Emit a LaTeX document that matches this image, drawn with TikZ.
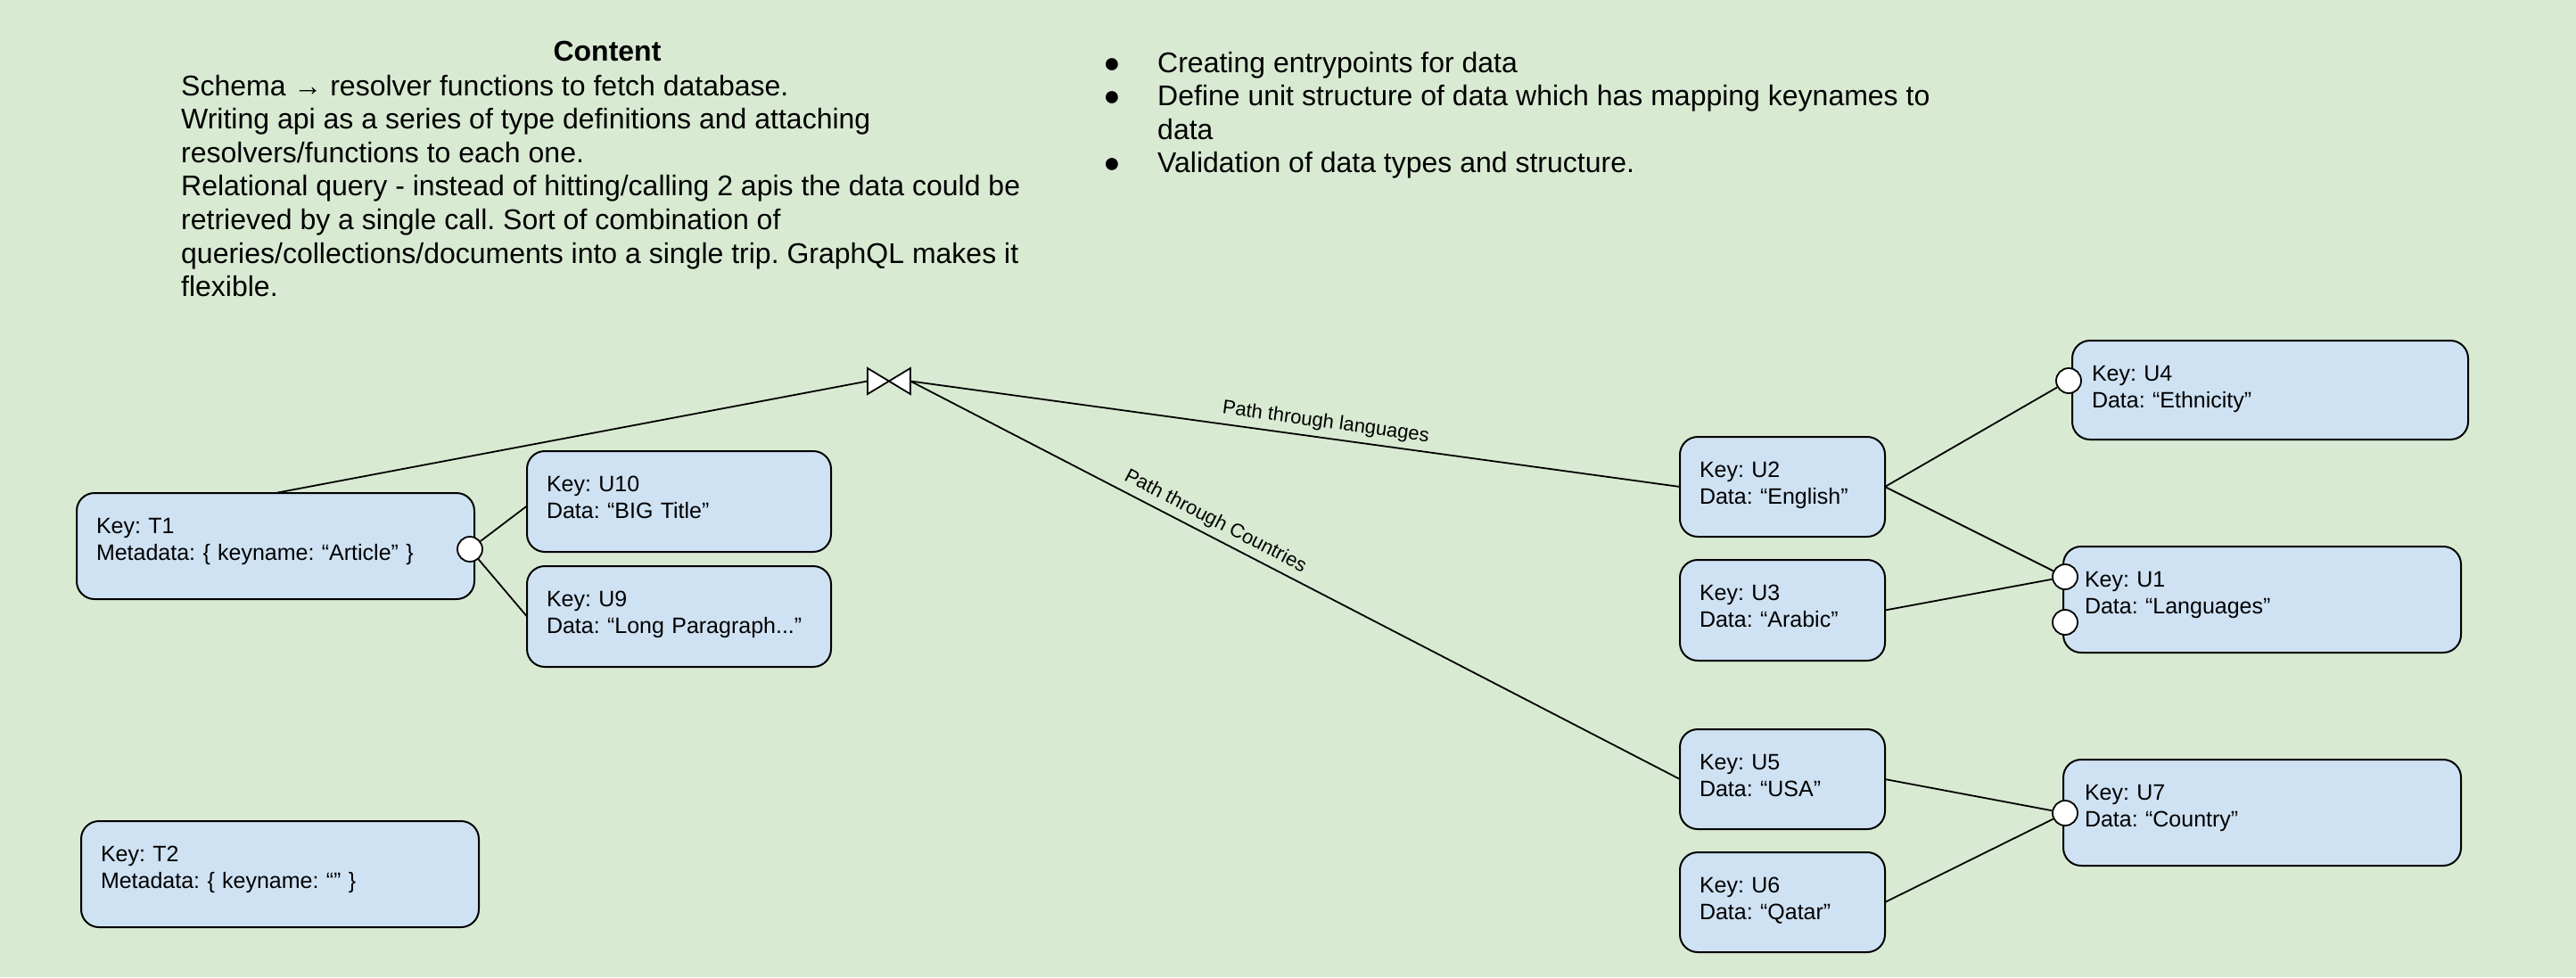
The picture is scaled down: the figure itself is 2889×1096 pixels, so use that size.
\documentclass[tikz,border=0pt]{standalone}
\usepackage{fontspec}
\setmainfont{Liberation Sans}
\frenchspacing
\definecolor{bggreen}{HTML}{D9EAD3}
\definecolor{boxblue}{HTML}{CFE2F3}
\tikzset{
  box/.style={draw, fill=boxblue, rounded corners=20pt, line width=2pt,
    inner xsep=22pt, inner ysep=0pt, outer sep=0pt, text height=45pt,
    align=left, anchor=north west, font=\fontsize{25}{30.6}\selectfont},
  bodytext/.style={anchor=base west, inner sep=0pt, font=\fontsize{32}{38}\selectfont},
  bullet/.style={anchor=base, inner sep=0pt, font=\fontsize{32}{38}\selectfont},
  conn/.style={line width=1.8pt},
  ring/.style={circle, draw, fill=white, line width=1.8pt, minimum size=28pt, inner sep=0pt},
  pathlabel/.style={font=\fontsize{22}{26}\selectfont, sloped, above, inner sep=6pt}
}
\begin{document}
\begin{tikzpicture}[x=1pt,y=1pt]
\useasboundingbox (0,0) rectangle (2889,-1096);
\fill[bggreen] (0,0) rectangle (2889,-1096);

% text blocks
\node[bodytext, anchor=base, font=\fontsize{32}{38}\selectfont\bfseries] (title) at (681,-68) {Content};
\node[bodytext] (l1) at (203,-107) {Schema → resolver functions to fetch database.};
\node[bodytext] (l2) at (203,-144.6) {Writing api as a series of type definitions and attaching};
\node[bodytext] (l3) at (203,-182.2) {resolvers/functions to each one.};
\node[bodytext] (l4) at (203,-219.8) {Relational query - instead of hitting/calling 2 apis the data could be};
\node[bodytext] (l5) at (203,-257.4) {retrieved by a single call. Sort of combination of};
\node[bodytext] (l6) at (203,-295) {queries/collections/documents into a single trip. GraphQL makes it};
\node[bodytext] (l7) at (203,-332.6) {flexible.};

\node[bullet] (d1) at (1247,-81) {●};
\node[bullet] (d2) at (1247,-118.5) {●};
\node[bullet] (d3) at (1247,-193.5) {●};
\node[bodytext] (b1) at (1298,-81) {Creating entrypoints for data};
\node[bodytext] (b2) at (1298,-118.5) {Define unit structure of data which has mapping keynames to};
\node[bodytext] (b3) at (1298,-156) {data};
\node[bodytext] (b4) at (1298,-193.5) {Validation of data types and structure.};

% boxes
\node[box, text width=402pt, text depth=74pt] (t1) at (86,-553) {Key: T1\\Metadata: \{ keyname: “Article” \}};
\node[box, text width=297pt, text depth=68pt] (u10) at (591,-506) {Key: U10\\Data: “BIG Title”};
\node[box, text width=297pt, text depth=68pt] (u9) at (591,-635) {Key: U9\\Data: “Long Paragraph...”};
\node[box, text width=400pt, text depth=66pt] (u4) at (2324,-382) {Key: U4\\Data: “Ethnicity”};
\node[box, text width=186pt, text depth=67pt] (u2) at (1884,-490) {Key: U2\\Data: “English”};
\node[box, text width=186pt, text depth=68pt] (u3) at (1884,-628) {Key: U3\\Data: “Arabic”};
\node[box, inner xsep=24pt, text width=398pt, text depth=74pt] (u1) at (2314,-613) {Key: U1\\Data: “Languages”};
\node[box, text width=186pt, text depth=67pt] (u5) at (1884,-818) {Key: U5\\Data: “USA”};
\node[box, text width=186pt, text depth=67pt] (u6) at (1884,-956) {Key: U6\\Data: “Qatar”};
\node[box, inner xsep=24pt, text width=398pt, text depth=74pt] (u7) at (2314,-852) {Key: U7\\Data: “Country”};
\node[box, text width=402pt, text depth=74pt] (t2) at (91,-921) {Key: T2\\Metadata: \{ keyname: “” \}};

% ring connectors
\node[ring] (c1) at (527,-616) {};
\node[ring] (c4) at (2320,-427) {};
\node[ring] (c1a) at (2316,-647) {};
\node[ring] (c1b) at (2316,-698) {};
\node[ring] (c7) at (2316,-912) {};

% junction marker
\coordinate (markL) at (973,-427.5);
\coordinate (markR) at (1021,-427.5);

% connectors
\draw[conn] (t1.north) -- (markL);
\draw[conn] (markR) -- node[pathlabel, pos=0.537] {Path through languages} (u2.west);
\draw[conn] (markR) -- node[pathlabel, pos=0.387] {Path through Countries} (u5.west);
\draw[conn] (c1) -- ([yshift=-5pt]u10.west);
\draw[conn] (c1) -- (u9.west);
\draw[conn] (u2.east) -- (c4);
\draw[conn] (u2.east) -- (c1a);
\draw[conn] (u3.east) -- (c1a);
\draw[conn] (u5.east) -- (c7);
\draw[conn] (u6.east) -- (c7);

\draw[line width=1.8pt, fill=white] (973,-413) -- (1021,-442) -- (1021,-413) -- (973,-442) -- cycle;
\end{tikzpicture}
\end{document}
